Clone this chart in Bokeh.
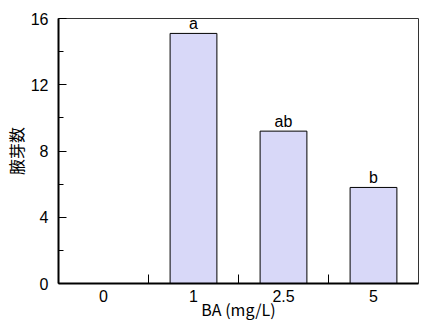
import numpy as np
from bokeh.plotting import figure
from bokeh.models import FixedTicker, ColumnDataSource, Range1d
from bokeh.core.properties import value
from bokeh.embed import file_html
from bokeh.resources import INLINE

categories = ["0", "1", "2.5", "5"]
bud_counts = [0.0, 15.1, 9.2, 5.8]
letters = ["", "a", "ab", "b"]
y_ticks = [0, 4, 8, 12, 16]
y_minor = [2, 6, 10, 14]

xpos = np.arange(len(categories)) + 0.5
src = ColumnDataSource(dict(x=xpos, top=bud_counts, lab=letters))

p = figure(width=419, height=323, output_backend="svg", toolbar_location=None,
           x_range=Range1d(0, len(categories)), y_range=Range1d(0, 16),
           min_border_left=10, min_border_right=1, min_border_top=18, min_border_bottom=10)

p.vbar(x="x", top="top", bottom=0, width=0.52, source=src,
       fill_color="#d8d8f8", line_color="black", line_width=1)

p.text(x="x", y="top", text="lab", source=src, text_align="center", text_baseline="bottom",
       text_font=value("Liberation Sans"), text_font_size="16px", text_color="black", y_offset=-1)

p.xgrid.visible = False
p.ygrid.visible = False
p.outline_line_color = "#333333"
p.outline_line_width = 1

xa = p.xaxis[0]
xa.ticker = FixedTicker(ticks=list(xpos), minor_ticks=list(range(1, len(categories))))
xa.major_label_overrides = {float(x): c for x, c in zip(xpos, categories)}
xa.major_tick_in = 0
xa.major_tick_out = 0
xa.minor_tick_in = 9
xa.minor_tick_out = 0
xa.axis_label = "BA (mg/L)"
xa.axis_label_standoff = -8
xa.major_label_standoff = 6

ya = p.yaxis[0]
ya.ticker = FixedTicker(ticks=y_ticks, minor_ticks=y_minor)
ya.major_tick_in = 8
ya.major_tick_out = 0
ya.minor_tick_in = 5
ya.minor_tick_out = 0
ya.axis_label = "腋芽数"
ya.axis_label_standoff = 0
ya.major_label_standoff = 10

for ax in (xa, ya):
    ax.axis_line_color = "black"
    ax.axis_line_width = 2
    ax.major_tick_line_color = "black"
    ax.minor_tick_line_color = "black"
    ax.major_label_text_font = "Liberation Sans"
    ax.major_label_text_font_size = "16px"
    ax.major_label_text_color = "black"
    ax.axis_label_text_font_style = "normal"
    ax.axis_label_text_font_size = "16px"
    ax.axis_label_text_color = "black"

xa.axis_label_text_font = "Noto Sans CJK JP"
ya.axis_label_text_font = "Noto Sans CJK JP"

open("out.html", "w").write(file_html(p, INLINE))
